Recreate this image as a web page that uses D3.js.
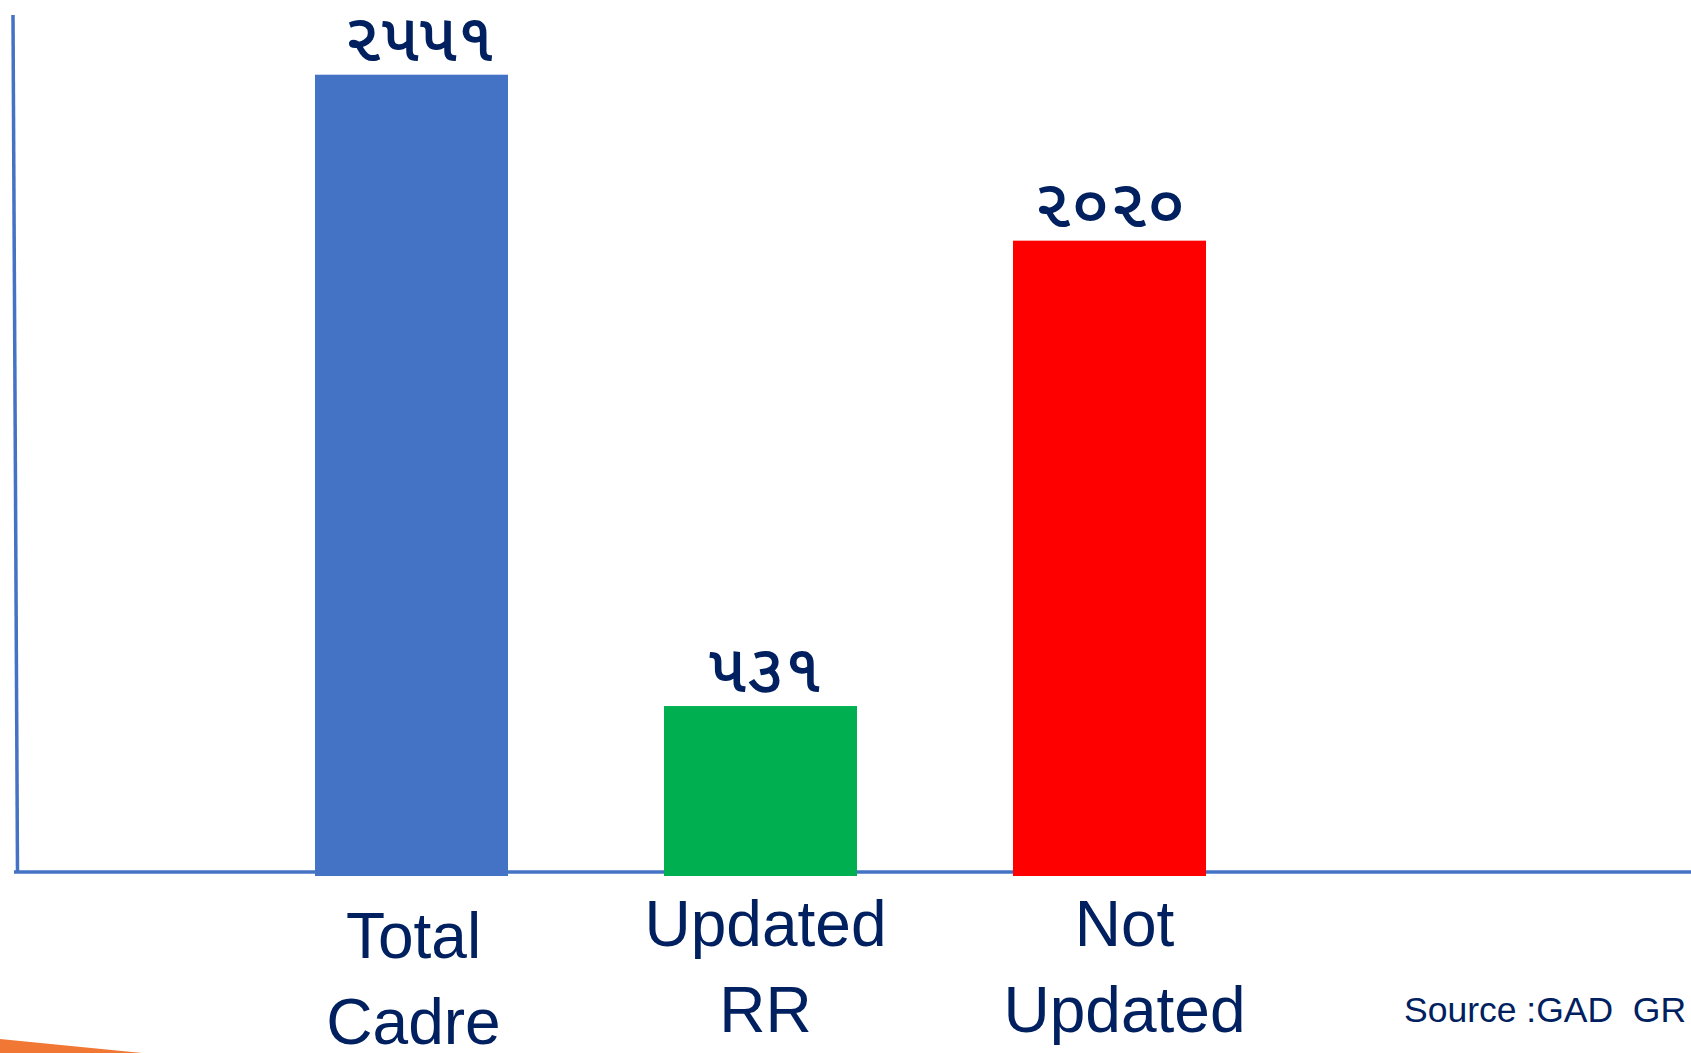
<!DOCTYPE html>
<html>
<head>
<meta charset="utf-8">
<script src="https://cdn.jsdelivr.net/npm/d3@7"></script>
<style>
  html, body { margin: 0; padding: 0; background: #fff; overflow: hidden; }
  svg { display: block; }
</style>
</head>
<body>
<svg id="chart" width="1691" height="1053"></svg>
<script>
// ---- data ----
const categories = ["Total Cadre", "Updated RR", "Not Updated"];
const categoryLines = [["Total", "Cadre"], ["Updated", "RR"], ["Not", "Updated"]];
const values = [2551, 531, 2020];
const valueLabels = ["૨૫૫૧", "૫૩૧", "૨૦૨૦"];
const barColors = ["#4472C4", "#00B050", "#FF0000"];
const sourceText = "Source :GAD  GR";

// ---- layout ----
const W = 1691, H = 1053;
const baseY = 872;
const svg = d3.select("#chart");

const x = d3.scaleBand()
  .domain(categories)
  .range([237, 1284])
  .paddingInner(0.447)
  .paddingOuter(0.2235);

const y = d3.scaleLinear()
  .domain([0, 2790])
  .range([baseY, 0]);

// decorative orange sliver bottom-left
svg.append("path")
  .attr("d", "M0,1039 L142,1053 L0,1053 Z")
  .attr("fill", "#F07834");

// axes
svg.append("line")
  .attr("x1", 13).attr("y1", 15).attr("x2", 17.5).attr("y2", baseY)
  .attr("stroke", "#4472C4").attr("stroke-width", 3.5);

const xAxis = d3.axisBottom(x).tickSize(0).tickFormat("");
const gx = svg.append("g")
  .attr("transform", `translate(0,${baseY})`)
  .call(xAxis);
gx.select(".domain").remove();
gx.append("line")
  .attr("x1", 14).attr("x2", W).attr("y1", 0).attr("y2", 0)
  .attr("stroke", "#4472C4").attr("stroke-width", 3.5);

// bars
svg.selectAll("rect.bar")
  .data(values)
  .join("rect")
  .attr("class", "bar")
  .attr("x", (d, i) => x(categories[i]))
  .attr("width", x.bandwidth())
  .attr("y", d => y(d))
  .attr("height", d => baseY + 4 - y(d))
  .attr("fill", (d, i) => barColors[i]);

// value labels
const valDx = [8, 5, 0];
svg.selectAll("text.val")
  .data(values)
  .join("text")
  .attr("class", "val")
  .attr("x", (d, i) => x(categories[i]) + x.bandwidth() / 2 + valDx[i])
  .attr("y", d => y(d) - 14)
  .attr("text-anchor", "middle")
  .attr("font-family", "'Noto Sans Gujarati', 'Lohit Gujarati', 'Noto Sans', sans-serif")
  .attr("font-size", 68)
  .attr("font-weight", 500)
  .attr("fill", "#002060")
  .text((d, i) => valueLabels[i]);

// category labels
const labelShift = [12, 0, 0];
const labelDx = [2, 5, 15];
const cat = svg.selectAll("text.cat")
  .data(categoryLines)
  .join("text")
  .attr("class", "cat")
  .attr("text-anchor", "middle")
  .attr("font-family", "'Liberation Sans', Arial, Helvetica, sans-serif")
  .attr("font-size", 64)
  .attr("fill", "#002060");
cat.each(function(lines, i) {
  const cx = x(categories[i]) + x.bandwidth() / 2 + labelDx[i];
  d3.select(this).selectAll("tspan")
    .data(lines)
    .join("tspan")
    .attr("x", cx)
    .attr("y", (l, j) => 946 + labelShift[i] + j * 86)
    .text(l => l);
});

// source
svg.append("text")
  .attr("x", 1404)
  .attr("y", 1022)
  .attr("font-family", "'Liberation Sans', Arial, Helvetica, sans-serif")
  .attr("font-size", 35.5)
  .attr("fill", "#002060")
  .style("white-space", "pre")
  .text(sourceText);
</script>
</body>
</html>
